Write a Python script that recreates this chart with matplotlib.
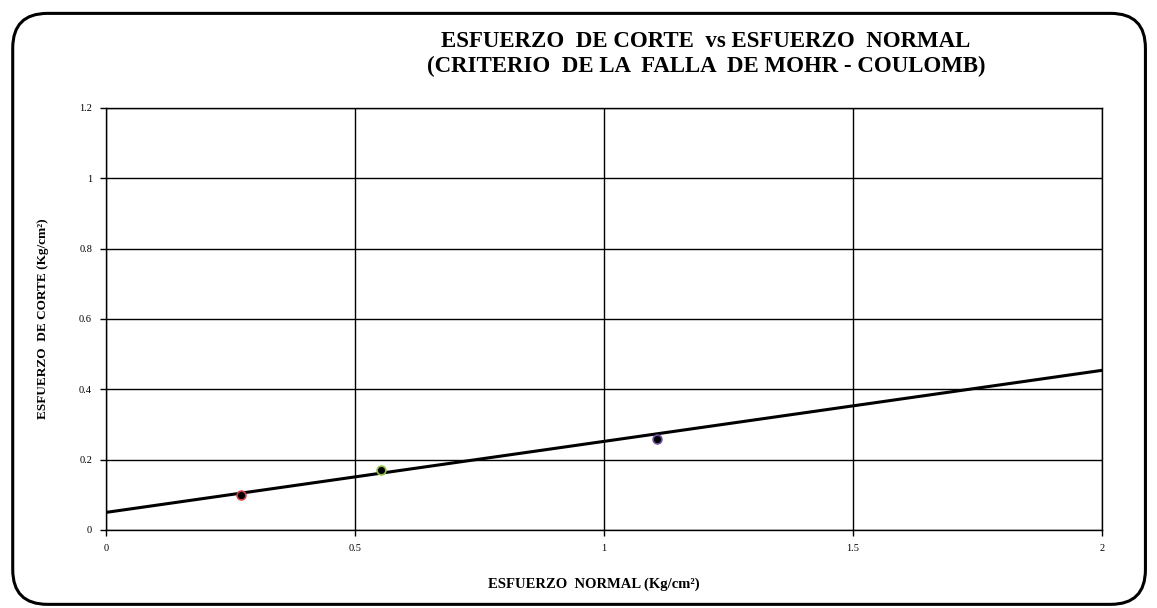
import matplotlib
matplotlib.use("Agg")
import matplotlib.pyplot as plt
from matplotlib.patches import FancyBboxPatch

# data
sigma = [0.271, 0.552, 1.106]          # esfuerzo normal (Kg/cm2)
tau = [0.0995, 0.171, 0.259]           # esfuerzo de corte (Kg/cm2)
edge_colors = ["#d04040", "#90c040", "#7050a0"]
line_x = [0.0, 2.0]
line_y = [0.050, 0.454]
xticks = [0, 0.5, 1, 1.5, 2]
xtick_labels = ["0", "0.5", "1", "1.5", "2"]
yticks = [0, 0.2, 0.4, 0.6, 0.8, 1.0, 1.2]
ytick_labels = ["0", "0.2", "0.4", "0.6", "0.8", "1", "1.2"]

plt.rcParams["font.family"] = ["Liberation Serif", "DejaVu Serif"]

fig = plt.figure(figsize=(11.57, 6.08), dpi=100)
ax = fig.add_axes([0.0916, 0.1283, 0.8609, 0.6941])

# rounded frame around the whole chart
frame = FancyBboxPatch((0.011, 0.006), 0.979, 0.972, boxstyle="round,pad=0,rounding_size=0.03",
                       transform=fig.transFigure, fill=False, edgecolor="black", linewidth=2.2,
                       mutation_aspect=1157 / 608)
fig.patches.append(frame)

ax.plot(line_x, line_y, color="black", linewidth=2.2, zorder=3)
for x, y, ec in zip(sigma, tau, edge_colors):
    ax.scatter(x, y, s=40, color="black", edgecolors=ec, linewidths=1.2, zorder=4)

ax.set_xlim(0, 2)
ax.set_ylim(0, 1.2)
ax.set_xticks(xticks)
ax.set_xticklabels(xtick_labels)
ax.set_yticks(yticks)
ax.set_yticklabels(ytick_labels)
ax.tick_params(labelsize=7.5, length=4, direction="out", width=1, pad=6)
ax.grid(True, color="black", linewidth=1)
for s in ax.spines.values():
    s.set_color("black")
    s.set_linewidth(1)

ax.set_xlabel("ESFUERZO  NORMAL (Kg/cm²)", fontsize=10.5, fontweight="bold", labelpad=17)
ax.xaxis.set_label_coords(0.49, -0.112)
ax.set_ylabel("ESFUERZO  DE CORTE (Kg/cm²)", fontsize=9.5, fontweight="bold", labelpad=22)

fig.text(0.610, 0.932, "ESFUERZO  DE CORTE  vs ESFUERZO  NORMAL", ha="center", va="center",
         fontsize=16.5, fontweight="bold")
fig.text(0.610, 0.891, "(CRITERIO  DE LA  FALLA  DE MOHR - COULOMB)", ha="center", va="center",
         fontsize=16.5, fontweight="bold")

fig.savefig("out.png", dpi=100)
